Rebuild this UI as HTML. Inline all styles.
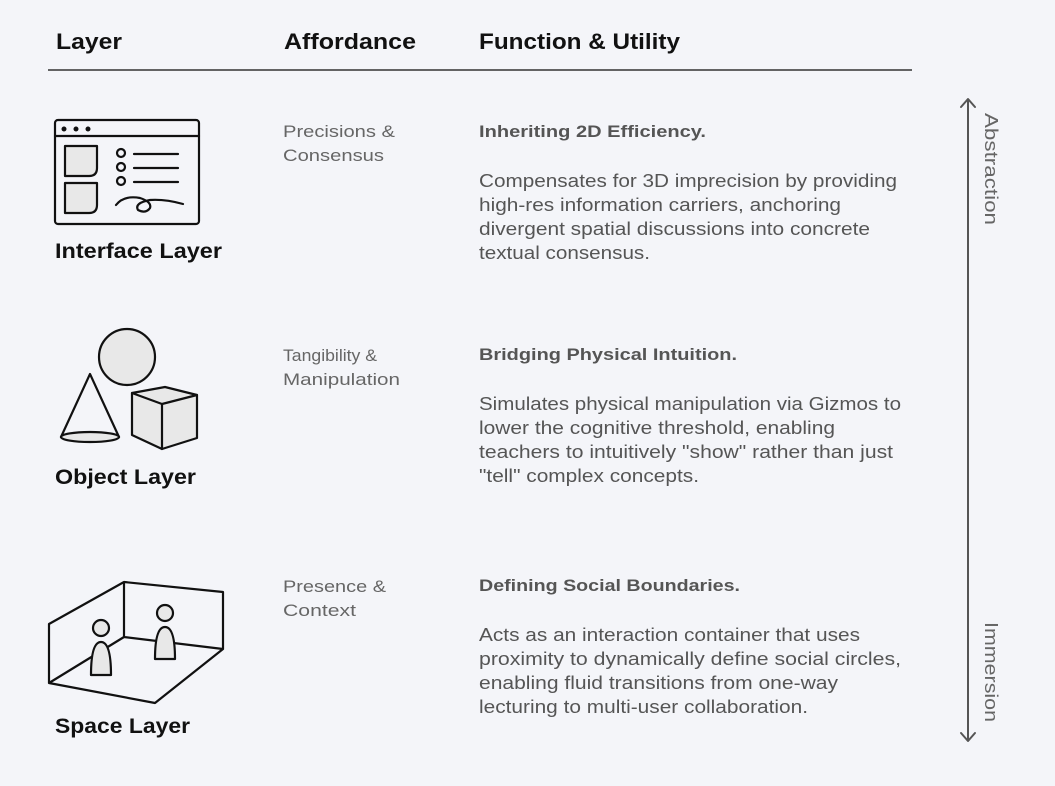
<!DOCTYPE html>
<html><head><meta charset="utf-8"><style>
html,body{margin:0;padding:0;background:#f4f5f9;}
svg{display:block}
text{font-family:"Liberation Sans",sans-serif;}
.h{font-size:22px;font-weight:bold;fill:#111}
.ln{font-size:21px;font-weight:bold;fill:#111}
.a{font-size:17px;fill:#666}
.t{font-size:17px;font-weight:bold;fill:#555}
.b{font-size:18px;fill:#555}
.v{font-size:18px;fill:#666}
</style></head><body>
<svg width="1055" height="786" viewBox="0 0 1055 786" xmlns="http://www.w3.org/2000/svg">
<rect width="1055" height="786" fill="#f4f5f9"/>
<text class="h" x="56" y="49" textLength="66" lengthAdjust="spacingAndGlyphs">Layer</text>
<text class="h" x="284" y="49" textLength="132" lengthAdjust="spacingAndGlyphs">Affordance</text>
<text class="h" x="479" y="49" textLength="201" lengthAdjust="spacingAndGlyphs">Function &amp; Utility</text>
<line x1="48" y1="70" x2="912" y2="70" stroke="#333" stroke-width="1.5"/>

<g fill="none" stroke="#111" stroke-width="2.2" stroke-linejoin="round" stroke-linecap="round">
<rect x="55" y="120" width="144" height="104" rx="3"/>
<line x1="55" y1="136" x2="199" y2="136"/>
<path d="M65 146 H97 V168 Q97 176 89 176 H65 Z" fill="#e8e8e8"/>
<path d="M65 183 H97 V205 Q97 213 89 213 H65 Z" fill="#e8e8e8"/>
<circle cx="121" cy="153" r="4"/><circle cx="121" cy="167" r="4"/><circle cx="121" cy="181" r="4"/>
<line x1="134" y1="154" x2="178" y2="154"/><line x1="134" y1="168" x2="178" y2="168"/><line x1="134" y1="182" x2="178" y2="182"/>
<path d="M116 205 Q124 195 140 198 Q152 202 150 208 Q146 214 138 210 Q134 203 150 200 Q165 199 183 204"/>
<circle cx="127" cy="357" r="28" fill="#e8e8e8"/>
<path d="M61 437 L90 374 L119 437" fill="#f4f5f9"/>
<ellipse cx="90" cy="437" rx="29" ry="5" fill="#e8e8e8"/>
<path d="M132 393 L165 387 L197 395 L197 438 L162 449 L132 435 Z" fill="#e8e8e8"/>
<path d="M132 393 L162 404 L197 395 M162 404 L162 449"/>
<path d="M124 582 L223 592 L223 649 L124 637 Z M124 582 L49 624 L49 683 L124 637 M49 683 L155 703 L223 649"/>
<circle cx="165" cy="613" r="8" fill="#e8e8e8"/>
<path d="M155 659 Q155 627 165 627 Q175 627 175 659 Z" fill="#e8e8e8"/>
<circle cx="101" cy="628" r="8" fill="#e8e8e8"/>
<path d="M91 675 Q91 642 101 642 Q111 642 111 675 Z" fill="#e8e8e8"/>
</g>
<g fill="#111"><circle cx="64" cy="129" r="2.5"/><circle cx="76" cy="129" r="2.5"/><circle cx="88" cy="129" r="2.5"/></g>

<text class="ln" x="55" y="258" textLength="167" lengthAdjust="spacingAndGlyphs">Interface Layer</text>
<text class="ln" x="55" y="484" textLength="141" lengthAdjust="spacingAndGlyphs">Object Layer</text>
<text class="ln" x="55" y="733" textLength="135" lengthAdjust="spacingAndGlyphs">Space Layer</text>

<text class="a" x="283" y="137" textLength="112" lengthAdjust="spacingAndGlyphs">Precisions &amp;</text>
<text class="a" x="283" y="161" textLength="101" lengthAdjust="spacingAndGlyphs">Consensus</text>
<text class="a" x="283" y="361" textLength="94" lengthAdjust="spacingAndGlyphs">Tangibility &amp;</text>
<text class="a" x="283" y="385" textLength="117" lengthAdjust="spacingAndGlyphs">Manipulation</text>
<text class="a" x="283" y="592" textLength="103" lengthAdjust="spacingAndGlyphs">Presence &amp;</text>
<text class="a" x="283" y="616" textLength="73" lengthAdjust="spacingAndGlyphs">Context</text>

<text class="t" x="479" y="137" textLength="227" lengthAdjust="spacingAndGlyphs">Inheriting 2D Efficiency.</text>
<text class="b" x="479" y="187" textLength="418" lengthAdjust="spacingAndGlyphs">Compensates for 3D imprecision by providing</text>
<text class="b" x="479" y="211" textLength="362" lengthAdjust="spacingAndGlyphs">high-res information carriers, anchoring</text>
<text class="b" x="479" y="235" textLength="391" lengthAdjust="spacingAndGlyphs">divergent spatial discussions into concrete</text>
<text class="b" x="479" y="259" textLength="171" lengthAdjust="spacingAndGlyphs">textual consensus.</text>

<text class="t" x="479" y="360" textLength="258" lengthAdjust="spacingAndGlyphs">Bridging Physical Intuition.</text>
<text class="b" x="479" y="410" textLength="422" lengthAdjust="spacingAndGlyphs">Simulates physical manipulation via Gizmos to</text>
<text class="b" x="479" y="434" textLength="356" lengthAdjust="spacingAndGlyphs">lower the cognitive threshold, enabling</text>
<text class="b" x="479" y="458" textLength="414" lengthAdjust="spacingAndGlyphs">teachers to intuitively "show" rather than just</text>
<text class="b" x="479" y="482" textLength="220" lengthAdjust="spacingAndGlyphs">"tell" complex concepts.</text>

<text class="t" x="479" y="591" textLength="261" lengthAdjust="spacingAndGlyphs">Defining Social Boundaries.</text>
<text class="b" x="479" y="641" textLength="381" lengthAdjust="spacingAndGlyphs">Acts as an interaction container that uses</text>
<text class="b" x="479" y="665" textLength="422" lengthAdjust="spacingAndGlyphs">proximity to dynamically define social circles,</text>
<text class="b" x="479" y="689" textLength="359" lengthAdjust="spacingAndGlyphs">enabling fluid transitions from one-way</text>
<text class="b" x="479" y="713" textLength="329" lengthAdjust="spacingAndGlyphs">lecturing to multi-user collaboration.</text>

<g stroke="#555" stroke-width="2" fill="none" stroke-linecap="round" stroke-linejoin="round">
<line x1="968" y1="100" x2="968" y2="740"/>
<path d="M961 107 L968 99 L975 107"/>
<path d="M961 733 L968 741 L975 733"/>
</g>
<text class="v" transform="translate(985,113) rotate(90)" textLength="112" lengthAdjust="spacingAndGlyphs">Abstraction</text>
<text class="v" transform="translate(985,622) rotate(90)" textLength="100" lengthAdjust="spacingAndGlyphs">Immersion</text>
</svg>
</body></html>
